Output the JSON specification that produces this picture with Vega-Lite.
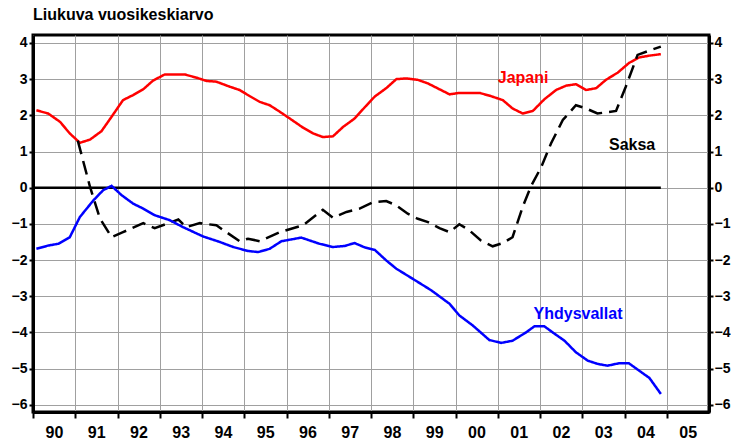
{
  "$schema": "https://vega.github.io/schema/vega-lite/v6.json",
  "width": 676,
  "height": 377,
  "autosize": {"type": "none"},
  "padding": {"left": 33, "top": 35, "right": 22, "bottom": 36},
  "background": "white",
  "title": {
    "text": "Liukuva vuosikeskiarvo",
    "anchor": "start",
    "frame": "group",
    "font": "Liberation Sans",
    "fontSize": 16,
    "fontWeight": "bold",
    "color": "black",
    "offset": 12
  },
  "config": {
    "view": {"stroke": "black", "strokeWidth": 3},
    "axis": {
      "labelFont": "Liberation Sans",
      "labelFontWeight": "bold",
      "labelColor": "black",
      "domainColor": "black",
      "domainWidth": 3,
      "tickColor": "black",
      "tickWidth": 2,
      "gridColor": "#a0a0a0",
      "gridWidth": 1
    }
  },
  "datasets": {
    "series": [
      {"t": 1990.08, "v": 2.14, "s": "Japani"},
      {"t": 1990.36, "v": 2.05, "s": "Japani"},
      {"t": 1990.64, "v": 1.82, "s": "Japani"},
      {"t": 1990.87, "v": 1.50, "s": "Japani"},
      {"t": 1991.11, "v": 1.24, "s": "Japani"},
      {"t": 1991.35, "v": 1.33, "s": "Japani"},
      {"t": 1991.62, "v": 1.56, "s": "Japani"},
      {"t": 1991.86, "v": 1.96, "s": "Japani"},
      {"t": 1992.13, "v": 2.42, "s": "Japani"},
      {"t": 1992.37, "v": 2.56, "s": "Japani"},
      {"t": 1992.61, "v": 2.72, "s": "Japani"},
      {"t": 1992.84, "v": 2.96, "s": "Japani"},
      {"t": 1993.12, "v": 3.13, "s": "Japani"},
      {"t": 1993.59, "v": 3.13, "s": "Japani"},
      {"t": 1993.87, "v": 3.04, "s": "Japani"},
      {"t": 1994.11, "v": 2.95, "s": "Japani"},
      {"t": 1994.34, "v": 2.93, "s": "Japani"},
      {"t": 1994.66, "v": 2.79, "s": "Japani"},
      {"t": 1994.89, "v": 2.70, "s": "Japani"},
      {"t": 1995.13, "v": 2.53, "s": "Japani"},
      {"t": 1995.37, "v": 2.37, "s": "Japani"},
      {"t": 1995.60, "v": 2.28, "s": "Japani"},
      {"t": 1995.84, "v": 2.10, "s": "Japani"},
      {"t": 1996.08, "v": 1.91, "s": "Japani"},
      {"t": 1996.39, "v": 1.66, "s": "Japani"},
      {"t": 1996.63, "v": 1.50, "s": "Japani"},
      {"t": 1996.86, "v": 1.40, "s": "Japani"},
      {"t": 1997.10, "v": 1.42, "s": "Japani"},
      {"t": 1997.34, "v": 1.68, "s": "Japani"},
      {"t": 1997.61, "v": 1.91, "s": "Japani"},
      {"t": 1997.85, "v": 2.22, "s": "Japani"},
      {"t": 1998.09, "v": 2.52, "s": "Japani"},
      {"t": 1998.36, "v": 2.75, "s": "Japani"},
      {"t": 1998.60, "v": 3.00, "s": "Japani"},
      {"t": 1998.83, "v": 3.02, "s": "Japani"},
      {"t": 1999.11, "v": 2.98, "s": "Japani"},
      {"t": 1999.35, "v": 2.88, "s": "Japani"},
      {"t": 1999.62, "v": 2.72, "s": "Japani"},
      {"t": 1999.86, "v": 2.58, "s": "Japani"},
      {"t": 2000.09, "v": 2.62, "s": "Japani"},
      {"t": 2000.57, "v": 2.62, "s": "Japani"},
      {"t": 2000.84, "v": 2.53, "s": "Japani"},
      {"t": 2001.12, "v": 2.42, "s": "Japani"},
      {"t": 2001.35, "v": 2.19, "s": "Japani"},
      {"t": 2001.59, "v": 2.05, "s": "Japani"},
      {"t": 2001.83, "v": 2.12, "s": "Japani"},
      {"t": 2002.10, "v": 2.44, "s": "Japani"},
      {"t": 2002.38, "v": 2.70, "s": "Japani"},
      {"t": 2002.62, "v": 2.82, "s": "Japani"},
      {"t": 2002.85, "v": 2.86, "s": "Japani"},
      {"t": 2003.09, "v": 2.70, "s": "Japani"},
      {"t": 2003.33, "v": 2.75, "s": "Japani"},
      {"t": 2003.56, "v": 2.98, "s": "Japani"},
      {"t": 2003.84, "v": 3.18, "s": "Japani"},
      {"t": 2004.11, "v": 3.45, "s": "Japani"},
      {"t": 2004.35, "v": 3.60, "s": "Japani"},
      {"t": 2004.59, "v": 3.65, "s": "Japani"},
      {"t": 2004.86, "v": 3.69, "s": "Japani"},
      {"t": 1991.06, "v": 1.30, "s": "Saksa"},
      {"t": 1991.35, "v": 0.02, "s": "Saksa"},
      {"t": 1991.58, "v": -0.84, "s": "Saksa"},
      {"t": 1991.86, "v": -1.37, "s": "Saksa"},
      {"t": 1992.13, "v": -1.23, "s": "Saksa"},
      {"t": 1992.61, "v": -0.98, "s": "Saksa"},
      {"t": 1992.88, "v": -1.12, "s": "Saksa"},
      {"t": 1993.44, "v": -0.88, "s": "Saksa"},
      {"t": 1993.63, "v": -1.09, "s": "Saksa"},
      {"t": 1993.95, "v": -0.98, "s": "Saksa"},
      {"t": 1994.34, "v": -1.04, "s": "Saksa"},
      {"t": 1994.89, "v": -1.48, "s": "Saksa"},
      {"t": 1995.09, "v": -1.41, "s": "Saksa"},
      {"t": 1995.37, "v": -1.48, "s": "Saksa"},
      {"t": 1995.84, "v": -1.23, "s": "Saksa"},
      {"t": 1996.39, "v": -1.04, "s": "Saksa"},
      {"t": 1996.86, "v": -0.61, "s": "Saksa"},
      {"t": 1997.10, "v": -0.83, "s": "Saksa"},
      {"t": 1997.42, "v": -0.67, "s": "Saksa"},
      {"t": 1997.73, "v": -0.58, "s": "Saksa"},
      {"t": 1998.05, "v": -0.40, "s": "Saksa"},
      {"t": 1998.36, "v": -0.37, "s": "Saksa"},
      {"t": 1998.60, "v": -0.49, "s": "Saksa"},
      {"t": 1998.87, "v": -0.72, "s": "Saksa"},
      {"t": 1999.11, "v": -0.86, "s": "Saksa"},
      {"t": 1999.35, "v": -0.95, "s": "Saksa"},
      {"t": 1999.62, "v": -1.12, "s": "Saksa"},
      {"t": 1999.86, "v": -1.23, "s": "Saksa"},
      {"t": 2000.09, "v": -1.01, "s": "Saksa"},
      {"t": 2000.33, "v": -1.18, "s": "Saksa"},
      {"t": 2000.60, "v": -1.46, "s": "Saksa"},
      {"t": 2000.88, "v": -1.62, "s": "Saksa"},
      {"t": 2001.12, "v": -1.53, "s": "Saksa"},
      {"t": 2001.35, "v": -1.37, "s": "Saksa"},
      {"t": 2001.59, "v": -0.53, "s": "Saksa"},
      {"t": 2001.79, "v": 0.05, "s": "Saksa"},
      {"t": 2002.03, "v": 0.57, "s": "Saksa"},
      {"t": 2002.26, "v": 1.22, "s": "Saksa"},
      {"t": 2002.54, "v": 1.87, "s": "Saksa"},
      {"t": 2002.85, "v": 2.28, "s": "Saksa"},
      {"t": 2003.09, "v": 2.19, "s": "Saksa"},
      {"t": 2003.36, "v": 2.05, "s": "Saksa"},
      {"t": 2003.80, "v": 2.12, "s": "Saksa"},
      {"t": 2004.03, "v": 2.79, "s": "Saksa"},
      {"t": 2004.31, "v": 3.67, "s": "Saksa"},
      {"t": 2004.59, "v": 3.79, "s": "Saksa"},
      {"t": 2004.86, "v": 3.90, "s": "Saksa"},
      {"t": 1990.08, "v": -1.69, "s": "Yhdysvallat"},
      {"t": 1990.36, "v": -1.60, "s": "Yhdysvallat"},
      {"t": 1990.60, "v": -1.55, "s": "Yhdysvallat"},
      {"t": 1990.87, "v": -1.37, "s": "Yhdysvallat"},
      {"t": 1991.11, "v": -0.81, "s": "Yhdysvallat"},
      {"t": 1991.43, "v": -0.35, "s": "Yhdysvallat"},
      {"t": 1991.66, "v": -0.07, "s": "Yhdysvallat"},
      {"t": 1991.86, "v": 0.05, "s": "Yhdysvallat"},
      {"t": 1992.10, "v": -0.21, "s": "Yhdysvallat"},
      {"t": 1992.37, "v": -0.44, "s": "Yhdysvallat"},
      {"t": 1992.61, "v": -0.58, "s": "Yhdysvallat"},
      {"t": 1992.88, "v": -0.76, "s": "Yhdysvallat"},
      {"t": 1993.24, "v": -0.90, "s": "Yhdysvallat"},
      {"t": 1993.55, "v": -1.09, "s": "Yhdysvallat"},
      {"t": 1994.03, "v": -1.35, "s": "Yhdysvallat"},
      {"t": 1994.42, "v": -1.50, "s": "Yhdysvallat"},
      {"t": 1994.74, "v": -1.64, "s": "Yhdysvallat"},
      {"t": 1995.09, "v": -1.75, "s": "Yhdysvallat"},
      {"t": 1995.33, "v": -1.78, "s": "Yhdysvallat"},
      {"t": 1995.60, "v": -1.69, "s": "Yhdysvallat"},
      {"t": 1995.88, "v": -1.48, "s": "Yhdysvallat"},
      {"t": 1996.35, "v": -1.38, "s": "Yhdysvallat"},
      {"t": 1996.78, "v": -1.55, "s": "Yhdysvallat"},
      {"t": 1997.10, "v": -1.64, "s": "Yhdysvallat"},
      {"t": 1997.38, "v": -1.61, "s": "Yhdysvallat"},
      {"t": 1997.61, "v": -1.53, "s": "Yhdysvallat"},
      {"t": 1997.85, "v": -1.65, "s": "Yhdysvallat"},
      {"t": 1998.09, "v": -1.72, "s": "Yhdysvallat"},
      {"t": 1998.36, "v": -2.01, "s": "Yhdysvallat"},
      {"t": 1998.60, "v": -2.24, "s": "Yhdysvallat"},
      {"t": 1998.99, "v": -2.52, "s": "Yhdysvallat"},
      {"t": 1999.43, "v": -2.84, "s": "Yhdysvallat"},
      {"t": 1999.86, "v": -3.21, "s": "Yhdysvallat"},
      {"t": 2000.09, "v": -3.53, "s": "Yhdysvallat"},
      {"t": 2000.41, "v": -3.81, "s": "Yhdysvallat"},
      {"t": 2000.80, "v": -4.21, "s": "Yhdysvallat"},
      {"t": 2001.08, "v": -4.29, "s": "Yhdysvallat"},
      {"t": 2001.35, "v": -4.23, "s": "Yhdysvallat"},
      {"t": 2001.67, "v": -4.00, "s": "Yhdysvallat"},
      {"t": 2001.87, "v": -3.83, "s": "Yhdysvallat"},
      {"t": 2002.10, "v": -3.83, "s": "Yhdysvallat"},
      {"t": 2002.30, "v": -4.00, "s": "Yhdysvallat"},
      {"t": 2002.58, "v": -4.23, "s": "Yhdysvallat"},
      {"t": 2002.85, "v": -4.55, "s": "Yhdysvallat"},
      {"t": 2003.13, "v": -4.78, "s": "Yhdysvallat"},
      {"t": 2003.36, "v": -4.87, "s": "Yhdysvallat"},
      {"t": 2003.60, "v": -4.92, "s": "Yhdysvallat"},
      {"t": 2003.88, "v": -4.85, "s": "Yhdysvallat"},
      {"t": 2004.10, "v": -4.85, "s": "Yhdysvallat"},
      {"t": 2004.35, "v": -5.06, "s": "Yhdysvallat"},
      {"t": 2004.59, "v": -5.26, "s": "Yhdysvallat"},
      {"t": 2004.86, "v": -5.70, "s": "Yhdysvallat"}
    ],
    "zero": [
      {"t": 1990, "v": 0},
      {"t": 2004.86, "v": 0}
    ],
    "labels": [
      {"t": 2001.6, "v": 3.03, "s": "Japani"},
      {"t": 2004.18, "v": 1.17, "s": "Saksa"},
      {"t": 2002.9, "v": -3.48, "s": "Yhdysvallat"}
    ]
  },
  "resolve": {"scale": {"y": "independent"}},
  "layer": [
    {
      "data": {"name": "zero"},
      "mark": {"type": "line", "color": "black", "strokeWidth": 2.5},
      "encoding": {
        "x": {"field": "t", "type": "quantitative", "scale": {"domain": [1990, 2006], "nice": false, "zero": false},
          "axis": {
            "orient": "bottom",
            "values": [1990, 1991, 1992, 1993, 1994, 1995, 1996, 1997, 1998, 1999, 2000, 2001, 2002, 2003, 2004, 2005],
            "labelExpr": "slice(toString(datum.value), 2)",
            "labelOffset": 21,
            "labelFlush": false,
            "labelOverlap": false,
            "labelBound": false,
            "labelFontSize": 16,
            "labelPadding": 6,
            "tickSize": 6,
            "grid": true,
            "title": null
          }
        },
        "y": {"field": "v", "type": "quantitative", "scale": {"domain": [-6.2, 4.22], "nice": false, "zero": false},
          "axis": {
            "orient": "right",
            "values": [-6, -5, -4, -3, -2, -1, 0, 1, 2, 3, 4],
            "labelFontSize": 14,
            "tickSize": 4,
            "labelPadding": 1,
            "grid": false,
            "title": null
          }
        }
      }
    },
    {
      "layer": [
        {
          "data": {"name": "series"},
          "mark": {"type": "line", "strokeWidth": 2.5},
          "encoding": {
            "x": {"field": "t", "type": "quantitative"},
            "y": {"field": "v", "type": "quantitative"},
            "color": {"field": "s", "type": "nominal", "legend": null,
              "scale": {"domain": ["Japani", "Saksa", "Yhdysvallat"], "range": ["#ff0000", "#000000", "#0000ff"]}},
            "strokeDash": {"field": "s", "type": "nominal", "legend": null,
              "scale": {"domain": ["Japani", "Saksa", "Yhdysvallat"], "range": [[1, 0], [14, 7], [1, 0]]}}
          }
        },
        {
          "data": {"name": "labels"},
          "mark": {"type": "text", "font": "Liberation Sans", "fontSize": 16, "fontWeight": "bold", "align": "center", "baseline": "middle"},
          "encoding": {
            "x": {"field": "t", "type": "quantitative"},
            "y": {"field": "v", "type": "quantitative"},
            "text": {"field": "s"},
            "color": {"field": "s", "type": "nominal", "legend": null}
          }
        }
      ],
      "encoding": {
        "y": {"field": "v", "type": "quantitative", "scale": {"domain": [-6.2, 4.22], "nice": false, "zero": false},
          "axis": {
            "orient": "left",
            "values": [-6, -5, -4, -3, -2, -1, 0, 1, 2, 3, 4],
            "labelFontSize": 14,
            "tickSize": 4,
            "labelPadding": 2,
            "grid": true,
            "title": null
          }
        }
      }
    }
  ]
}
